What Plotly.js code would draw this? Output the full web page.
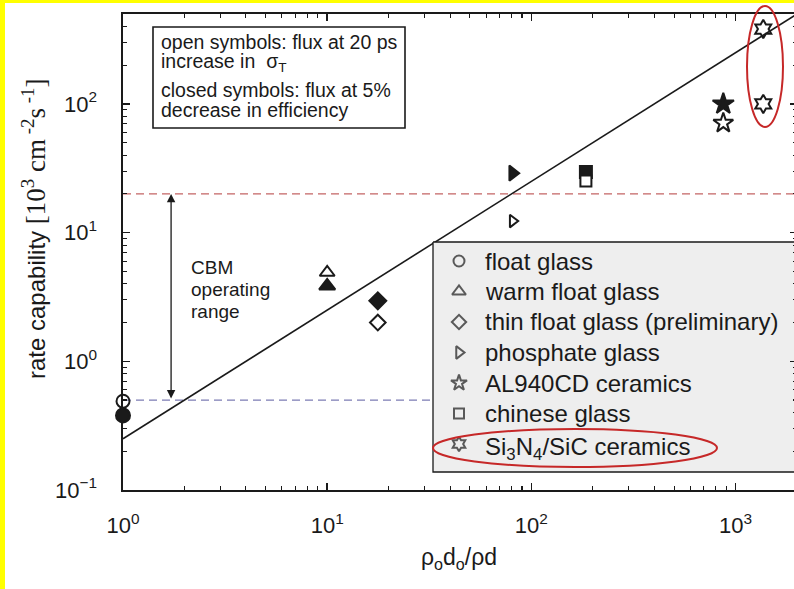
<!DOCTYPE html>
<html>
<head>
<meta charset="utf-8">
<script src="https://cdn.plot.ly/plotly-3.0.1.min.js"></script>
<style>
  html, body { margin: 0; padding: 0; width: 794px; height: 589px; overflow: hidden; background: #ffff00; }
  #chart { position: absolute; left: 5px; top: 3px; width: 794px; height: 586px; background: #fff; }
</style>
</head>
<body>
<div id="chart"></div>
<script>
// Rate capability of resistive-plate materials vs. normalised resistivity x thickness
const floatX = [1],     floatOpen = [0.49],  floatClosed = [0.38];
const warmX = [10],     warmOpen = [4.9],    warmClosed = [3.85];
const thinX = [17.7],   thinOpen = [2.0],    thinClosed = [2.95];
const phosX = [81],     phosOpen = [12.3],   phosClosed = [29];
const chinaX = [185],   chinaOpen = [25.2],  chinaClosed = [29.6];
const alX = [871],      alOpen = [71],       alClosed = [100];
const sicX = [1367, 1367], sicOpen = [382, 100];

// linear scaling guide and CBM operating range
const fitX = [1, 2000];
const fitY = [0.25, 500];
const limitX = [1, 2000];
const cbmUpper = 20;
const cbmLower = 0.5;
const rangeArrowX = 1.72;

const xTickVals = [1, 10, 100, 1000];
const xTickText = ['10<sup>0</sup>', '10<sup>1</sup>', '10<sup>2</sup>', '10<sup>3</sup>'];
const yTickVals = [0.1, 1, 10, 100];
const yTickText = ['10<sup>\u22121</sup>', '10<sup>0</sup>', '10<sup>1</sup>', '10<sup>2</sup>'];

const legendNames = ['float glass', 'warm float glass', 'thin float glass (preliminary)',
  'phosphate glass', 'AL940CD ceramics', 'chinese glass', 'Si<sub>3</sub>N<sub>4</sub>/SiC ceramics'];
const legendSymbols = ['circle-open', 'triangle-up-open', 'diamond-open',
  'triangle-right-open', 'star-open', 'square-open', 'hexagram-open'];
const legendSizes = [11, 12, 11, 11, 12, 10, 11];

// page geometry (the chart div sits at 5,3 on the page)
const W = 794, H = 586, OX = 5, OY = 3;
const M = { l: 118, r: 2, t: 11, b: 99 };
const PW = W - M.l - M.r, PH = H - M.t - M.b;
const px = x => (x - OX - M.l) / PW;           // page x -> paper
const py = y => (OY + M.t + PH - y) / PH;      // page y -> paper

const FONT = 'Liberation Sans, Arial, sans-serif';
const INK = '#1a1a1a';

function pts(x, y, symbol, size, fill) {
  return {
    type: 'scatter', mode: 'markers', x: x, y: y, showlegend: false, cliponaxis: false,
    marker: { symbol: symbol, size: size, color: fill || INK, line: { color: INK, width: 2 } }
  };
}

const traces = [
  { type: 'scatter', mode: 'lines', x: limitX, y: [cbmUpper, cbmUpper], showlegend: false,
    line: { color: '#c46464', width: 1.3, dash: '8px,5px' } },
  { type: 'scatter', mode: 'lines', x: limitX, y: [cbmLower, cbmLower], showlegend: false,
    line: { color: '#7c7cb4', width: 1.3, dash: '8px,5px' } },
  { type: 'scatter', mode: 'lines', x: fitX, y: fitY, showlegend: false,
    line: { color: INK, width: 1.6 } },

  pts(floatX, floatClosed, 'circle', 14),
  pts(floatX, floatOpen, 'circle-open', 13),
  pts(warmX, warmClosed, 'triangle-up', 14),
  pts(warmX, warmOpen, 'triangle-up-open', 13),
  pts(thinX, thinClosed, 'diamond', 13),
  pts(thinX, thinOpen, 'diamond-open', 12),
  pts(phosX, phosClosed, 'triangle-right', 13),
  pts(phosX, phosOpen, 'triangle-right-open', 11),
  pts(chinaX, chinaClosed, 'square', 12),
  pts(chinaX, chinaOpen, 'square', 11, '#ffffff'),
  pts(alX, alClosed, 'star', 16),
  pts(alX, alOpen, 'star-open', 15),
  pts(sicX, sicOpen, 'hexagram-open', 14),
];

// key panel, drawn on a paper-like overlay axis pair
const keyLeft = 433, keyTop = 242, keyBottom = 472, keyRight = 900;
const rowY0 = 261, rowStep = 30.5, symX = 459, textX = 483;
traces.push({
  type: 'scatter', mode: 'lines', xaxis: 'x2', yaxis: 'y2', showlegend: false,
  x: [px(keyLeft), px(keyRight), px(keyRight), px(keyLeft), px(keyLeft)],
  y: [py(keyTop), py(keyTop), py(keyBottom), py(keyBottom), py(keyTop)],
  fill: 'toself', fillcolor: '#eeeeee', line: { color: INK, width: 1.3 }
});
traces.push({
  type: 'scatter', mode: 'markers', xaxis: 'x2', yaxis: 'y2', showlegend: false,
  x: legendNames.map(() => px(symX)),
  y: legendNames.map((_, i) => py(rowY0 + i * rowStep)),
  marker: { symbol: legendSymbols, size: legendSizes, color: INK, line: { color: INK, width: 2 } }
});

const annotations = [];
legendNames.forEach((name, i) => {
  annotations.push({
    xref: 'paper', yref: 'paper', x: px(textX), y: py(rowY0 + i * rowStep + (i === 6 ? 4 : 0)),
    xanchor: 'left', yanchor: 'middle', showarrow: false, text: name,
    font: { family: FONT, size: 24, color: INK }
  });
});

// note box text
[['open symbols: flux at 20 ps', 42], ['increase in  \u03c3<sub>T</sub>', 63],
 ['closed symbols: flux at 5%', 90], ['decrease in efficiency', 110]].forEach(([t, y]) => {
  annotations.push({
    xref: 'paper', yref: 'paper', x: px(159), y: py(y), xanchor: 'left', yanchor: 'middle',
    showarrow: false, text: t, font: { family: FONT, size: 19.5, color: INK }
  });
});

// CBM range label
[['CBM', 267], ['operating', 289], ['range', 311]].forEach(([t, y]) => {
  annotations.push({
    xref: 'paper', yref: 'paper', x: px(189), y: py(y), xanchor: 'left', yanchor: 'middle',
    showarrow: false, text: t, font: { family: FONT, size: 19, color: INK }
  });
});

// double-headed arrow spanning the operating range
annotations.push({
  xref: 'x', yref: 'y', axref: 'x', ayref: 'y',
  x: Math.log10(rangeArrowX), y: Math.log10(cbmUpper),
  ax: Math.log10(rangeArrowX), ay: Math.log10(cbmLower),
  text: '', showarrow: true, arrowside: 'end+start', arrowhead: 2, startarrowhead: 2,
  arrowsize: 1.3, startarrowsize: 1.3, arrowwidth: 1.3, arrowcolor: INK, standoff: 0, startstandoff: 0
});

// axis titles
annotations.push({
  xref: 'paper', yref: 'paper', x: px(34), y: py(229), xanchor: 'center', yanchor: 'middle',
  textangle: -90, showarrow: false,
  text: 'rate capability <span style="font-family:Liberation Serif;font-size:27px">[10<sup>3</sup> cm<sup> -2</sup>s<sup> -1</sup>]</span>',
  font: { family: FONT, size: 24, color: INK }
});
annotations.push({
  xref: 'paper', yref: 'paper', x: px(459), y: py(558), xanchor: 'center', yanchor: 'middle',
  showarrow: false, text: '\u03c1<sub>o</sub>d<sub>o</sub>/\u03c1d',
  font: { family: FONT, size: 23, color: INK }
});

const axisCommon = {
  type: 'log', showgrid: false, zeroline: false, showline: true, linecolor: INK, linewidth: 1.6,
  mirror: 'allticks', ticks: 'inside', ticklen: 7, tickwidth: 1.4, tickcolor: INK,
  tickmode: 'array', tickfont: { family: FONT, size: 22, color: INK },
  minor: { ticks: 'inside', ticklen: 4, tickwidth: 1.1, tickcolor: INK, dtick: 'D1', showgrid: false },
  fixedrange: true
};

const layout = {
  width: W, height: H, margin: M, showlegend: false,
  paper_bgcolor: '#ffffff', plot_bgcolor: '#ffffff',
  font: { family: FONT, color: INK },
  xaxis: Object.assign({}, axisCommon, {
    range: [0, Math.log10(2000)], tickvals: xTickVals, ticktext: xTickText, ticklabelstandoff: 15
  }),
  yaxis: Object.assign({}, axisCommon, {
    range: [-1, Math.log10(500)], tickvals: yTickVals, ticktext: yTickText, ticklabelstandoff: 20
  }),
  xaxis2: { overlaying: 'x', range: [0, 1], visible: false, fixedrange: true },
  yaxis2: { overlaying: 'y', range: [0, 1], visible: false, fixedrange: true },
  shapes: [
    { type: 'rect', xref: 'paper', yref: 'paper', x0: px(153), x1: px(405), y0: py(27), y1: py(128),
      line: { color: INK, width: 1.6 }, layer: 'above' },
    { type: 'circle', xref: 'paper', yref: 'paper', x0: px(747), x1: px(783), y0: py(6), y1: py(127),
      line: { color: '#c62828', width: 2 }, layer: 'above' },
    { type: 'circle', xref: 'paper', yref: 'paper', x0: px(433), x1: px(717), y0: py(429), y1: py(467),
      line: { color: '#c62828', width: 2 }, layer: 'above' }
  ],
  annotations: annotations
};

Plotly.newPlot('chart', traces, layout, { staticPlot: true, displayModeBar: false });
</script>
</body>
</html>
